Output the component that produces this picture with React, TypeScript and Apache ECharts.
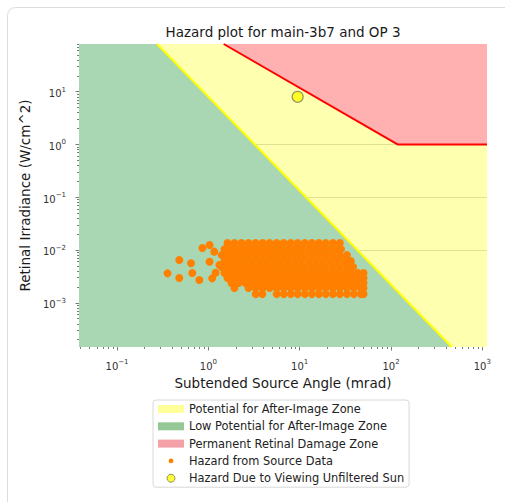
import React, { useEffect, useRef } from "react";
import * as echarts from "echarts";

const FONT = "DejaVu Sans";
const TITLE = "Hazard plot for main-3b7 and OP 3";
const X_NAME = "Subtended Source Angle (mrad)";
const Y_NAME = "Retinal Irradiance (W/cm^2)";

// axis ranges (mrad, W/cm^2)
const X_RANGE = [0.0383, 1125];
const Y_RANGE = [1.45e-4, 80.3];
const X_MAJOR = [0.1, 1, 10, 100, 1000];
const Y_MAJOR = [0.001, 0.01, 0.1, 1, 10];

// zone boundaries (read at the plot edges)
const lowZoneAngle = [0.0383, 0.2735, 462];
const lowZoneIrr = [80.3, 80.3, 1.45e-4];
const afterImageLineAngle = [0.2735, 462];
const afterImageLineIrr = [80.3, 1.45e-4];
const burnAngle = [1.47, 118, 1125];
const burnIrr = [80.3, 1, 1];
const yellowZoneAngle = [0.0383, 1125];
const yellowZoneIrr = [80.3, 80.3];

// sun
const sunAngle = [9.5];
const sunIrr = [8.0];

// source data hazard points (dense cloud rows)
const rowIrradiance = [0.0136, 0.0104, 0.008, 0.0062, 0.00475, 0.00366, 0.00294, 0.00237, 0.0019, 0.00146];
const rowAngles = [
  [1.62, 1.93, 2.31, 2.75, 3.29, 3.92, 4.68, 5.59, 6.67, 7.96, 9.51, 11.4, 13.6, 16.2, 19.3, 23.1, 27.5],
  [1.5, 1.79, 2.14, 2.55, 3.05, 3.63, 4.34, 5.18, 6.18, 7.38, 8.81, 10.5, 12.6, 15.0, 17.9, 21.4, 25.5, 28.4],
  [1.4, 1.62, 1.93, 2.31, 2.75, 3.29, 3.92, 4.68, 5.59, 6.67, 7.96, 9.51, 11.4, 13.6, 16.2, 19.3, 23.1, 27.5, 32.9],
  [1.5, 1.79, 2.14, 2.55, 3.05, 3.63, 4.34, 5.18, 6.18, 7.38, 8.81, 10.5, 12.6, 15.0, 17.9, 21.4, 25.5, 30.5, 36.3],
  [1.4, 1.62, 1.93, 2.31, 2.75, 3.29, 3.92, 4.68, 5.59, 6.67, 7.96, 9.51, 11.4, 13.6, 16.2, 19.3, 23.1, 27.5, 32.9, 38.5],
  [1.5, 1.79, 2.14, 2.55, 3.05, 3.63, 4.34, 5.18, 6.18, 7.38, 8.81, 10.5, 12.6, 15.0, 17.9, 21.4, 25.5, 30.5, 36.3, 43.4, 50.0],
  [1.62, 1.93, 2.31, 2.75, 3.29, 3.92, 4.68, 5.59, 6.67, 7.96, 9.51, 11.4, 13.6, 16.2, 19.3, 23.1, 27.5, 32.9, 39.2, 46.8, 50.0],
  [1.79, 2.14, 2.55, 3.05, 3.63, 4.34, 5.18, 6.18, 7.38, 8.81, 10.5, 12.6, 15.0, 17.9, 21.4, 25.5, 30.5, 36.3, 43.4, 50.0],
  [1.93, 2.75, 3.29, 3.92, 4.68, 5.59, 6.67, 7.96, 9.51, 11.4, 13.6, 16.2, 19.3, 23.1, 27.5, 32.9, 39.2, 46.8, 50.0],
  [3.3, 3.9, 5.6, 6.7, 8.0, 9.5, 11.4, 13.6, 16.2, 19.3, 23.1, 27.5, 32.9, 39.2, 46.8, 50.0],
];
// sparse points left of the cloud
const sparseAngles = [0.357, 0.48, 0.48, 0.646, 0.667, 0.796, 0.859, 1.03, 1.03, 1.16, 1.32, 1.2, 1.1];
const sparseIrr = [0.00361, 0.00646, 0.00294, 0.0056, 0.00366, 0.0027, 0.0109, 0.0124, 0.006, 0.0093, 0.0052, 0.0037, 0.0029];

const LEGEND_NAMES = [
  "Potential for After-Image Zone",
  "Low Potential for After-Image Zone",
  "Permanent Retinal Damage Zone",
  "Hazard from Source Data",
  "Hazard Due to Viewing Unfiltered Sun",
];

const lg = (v: number) => Math.log10(v);
const pairs = (xs: number[], ys: number[]) => xs.map((x, i) => [lg(x), lg(ys[i])]);

const hazardData: number[][] = [];
rowAngles.forEach((row, r) => row.forEach((a) => hazardData.push([lg(a), lg(rowIrradiance[r])])));
sparseAngles.forEach((a, i) => hazardData.push([lg(a), lg(sparseIrr[i])]));

const minorTicks = (lo: number, hi: number) => {
  const out: number[] = [];
  for (let e = Math.floor(lg(lo)); e <= Math.ceil(lg(hi)); e++) {
    for (let k = 2; k <= 9; k++) {
      const v = k * Math.pow(10, e);
      if (v > lo && v < hi) out.push(lg(v));
    }
  }
  return out;
};

const expLabel = (v: number) => {
  const e = Math.round(v);
  return `{b|10}{s|${e < 0 ? "\u2212" + -e : e}}`;
};
const richLabel = {
  b: { fontSize: 10, fontFamily: FONT, color: "#333", padding: [4, 0, 0, 0] },
  s: { fontSize: 7, fontFamily: FONT, color: "#333", padding: [0, 0, 4, 0] },
};

const tickStyle = { color: "#555", width: 0.8 };

export default function App() {
  const ref = useRef<HTMLDivElement>(null);
  useEffect(() => {
    const chart = echarts.init(ref.current!, null, { renderer: "svg" });
    const xMin = lg(X_RANGE[0]);
    const xMax = lg(X_RANGE[1]);
    const yMin = lg(Y_RANGE[0]);
    const yMax = lg(Y_RANGE[1]);
    const option: any = {
      animation: false,
      backgroundColor: "#ffffff",
      graphic: [
        {
          type: "rect",
          shape: { x: 7.5, y: 7.5, width: 560, height: 560, r: 8 },
          style: { fill: "none", stroke: "#dcdcdc", lineWidth: 1 },
          silent: true,
        },
        {
          type: "text",
          x: 283,
          y: 31.5,
          style: {
            text: TITLE,
            fontSize: 13.5,
            fontFamily: FONT,
            fill: "#1a1a1a",
            align: "center",
            verticalAlign: "middle",
          },
        },
      ],
      grid: { left: 79, top: 44, width: 408, height: 303, containLabel: false },
      xAxis: [
        {
          type: "value",
          min: xMin,
          max: xMax,
          position: "bottom",
          axisLine: { show: false, onZero: false },
          axisTick: { show: true, customValues: X_MAJOR.map(lg), length: 3.5, lineStyle: tickStyle },
          axisLabel: { customValues: X_MAJOR.map(lg), formatter: expLabel, rich: richLabel, margin: 10 },
          splitLine: { show: false },
          name: X_NAME,
          nameLocation: "middle",
          nameGap: 29,
          nameTextStyle: { fontSize: 13.5, fontFamily: FONT, color: "#1a1a1a" },
        },
        {
          type: "value",
          min: xMin,
          max: xMax,
          position: "bottom",
          axisLine: { show: false, onZero: false },
          axisTick: { show: true, customValues: minorTicks(X_RANGE[0], X_RANGE[1]), length: 2, lineStyle: tickStyle },
          axisLabel: { show: false },
          splitLine: { show: false },
        },
      ],
      yAxis: [
        {
          type: "value",
          min: yMin,
          max: yMax,
          position: "left",
          axisLine: { show: false, onZero: false },
          axisTick: { show: true, customValues: Y_MAJOR.map(lg), length: 3.5, lineStyle: tickStyle },
          axisLabel: { customValues: Y_MAJOR.map(lg), formatter: expLabel, rich: richLabel, margin: 13 },
          splitLine: { show: true, showMinLine: false, showMaxLine: false, lineStyle: { color: "#d4d4d4", width: 1 } },
          name: Y_NAME,
          nameLocation: "middle",
          nameGap: 35,
          nameTextStyle: { fontSize: 13.5, fontFamily: FONT, color: "#1a1a1a" },
        },
        {
          type: "value",
          min: yMin,
          max: yMax,
          position: "left",
          axisLine: { show: false, onZero: false },
          axisTick: { show: true, customValues: minorTicks(Y_RANGE[0], Y_RANGE[1]), length: 2, lineStyle: tickStyle },
          axisLabel: { show: false },
          splitLine: { show: false },
        },
      ],
      legend: {
        orient: "vertical",
        left: 153,
        top: 400,
        padding: [3, 5, 3, 5],
        itemGap: 5.3,
        itemWidth: 26,
        itemHeight: 8,
        borderColor: "#d8d8d8",
        borderWidth: 1,
        borderRadius: 3,
        textStyle: { fontSize: 11.4, fontFamily: FONT, color: "#222", lineHeight: 12 },
        data: [
          { name: LEGEND_NAMES[0], icon: "rect", itemStyle: { color: "#ffff99", borderWidth: 0 } },
          { name: LEGEND_NAMES[1], icon: "rect", itemStyle: { color: "#96c896", borderWidth: 0 } },
          { name: LEGEND_NAMES[2], icon: "rect", itemStyle: { color: "#f4a2a8", borderWidth: 0 } },
          {
            name: LEGEND_NAMES[3],
            icon: "path://M0,0L0,0M10,10L10,10M5,2A3,3,0,1,1,5,8A3,3,0,1,1,5,2Z",
            itemStyle: { color: "#ff8000", borderWidth: 0 },
          },
          {
            name: LEGEND_NAMES[4],
            icon: "circle",
            itemStyle: { color: "#ffff00", borderColor: "#7a7a60", borderWidth: 1 },
          },
        ],
      },
      series: [
        {
          name: LEGEND_NAMES[0],
          type: "line",
          z: 2,
          data: pairs(yellowZoneAngle, yellowZoneIrr),
          showSymbol: false,
          lineStyle: { width: 0 },
          areaStyle: { color: "rgba(255,255,0,0.31)", opacity: 1, origin: "start" },
          silent: true,
        },
        {
          name: LEGEND_NAMES[1],
          type: "line",
          z: 2,
          data: pairs(lowZoneAngle, lowZoneIrr),
          showSymbol: false,
          lineStyle: { width: 0 },
          itemStyle: { color: "#96c896" },
          areaStyle: { color: "#a9d7b3", opacity: 1, origin: "start" },
          silent: true,
        },
        {
          name: "After-image threshold",
          type: "line",
          z: 3,
          data: pairs(afterImageLineAngle, afterImageLineIrr),
          showSymbol: false,
          lineStyle: { color: "#ffff00", width: 2 },
          silent: true,
        },
        {
          name: LEGEND_NAMES[2],
          type: "line",
          z: 3,
          data: pairs(burnAngle, burnIrr),
          showSymbol: false,
          lineStyle: { color: "#ff0000", width: 2 },
          itemStyle: { color: "#f4a2a8" },
          areaStyle: { color: "#ffb0b0", opacity: 1, origin: "end" },
          silent: true,
        },
        {
          name: LEGEND_NAMES[3],
          type: "scatter",
          z: 5,
          data: hazardData,
          symbol: "circle",
          symbolSize: 8,
          itemStyle: { color: "#ff8000", opacity: 1 },
          silent: true,
        },
        {
          name: LEGEND_NAMES[4],
          type: "scatter",
          z: 6,
          data: pairs(sunAngle, sunIrr),
          symbol: "circle",
          symbolSize: 11,
          itemStyle: { color: "#ffff00", borderColor: "#7a7a60", borderWidth: 1.2 },
          silent: true,
        },
      ],
    };
    chart.setOption(option);
    return () => chart.dispose();
  }, []);
  return (
    <div
      ref={ref}
      style={{ position: "absolute", left: 0, top: 0, width: 505, height: 502, background: "#fff" }}
    />
  );
}
